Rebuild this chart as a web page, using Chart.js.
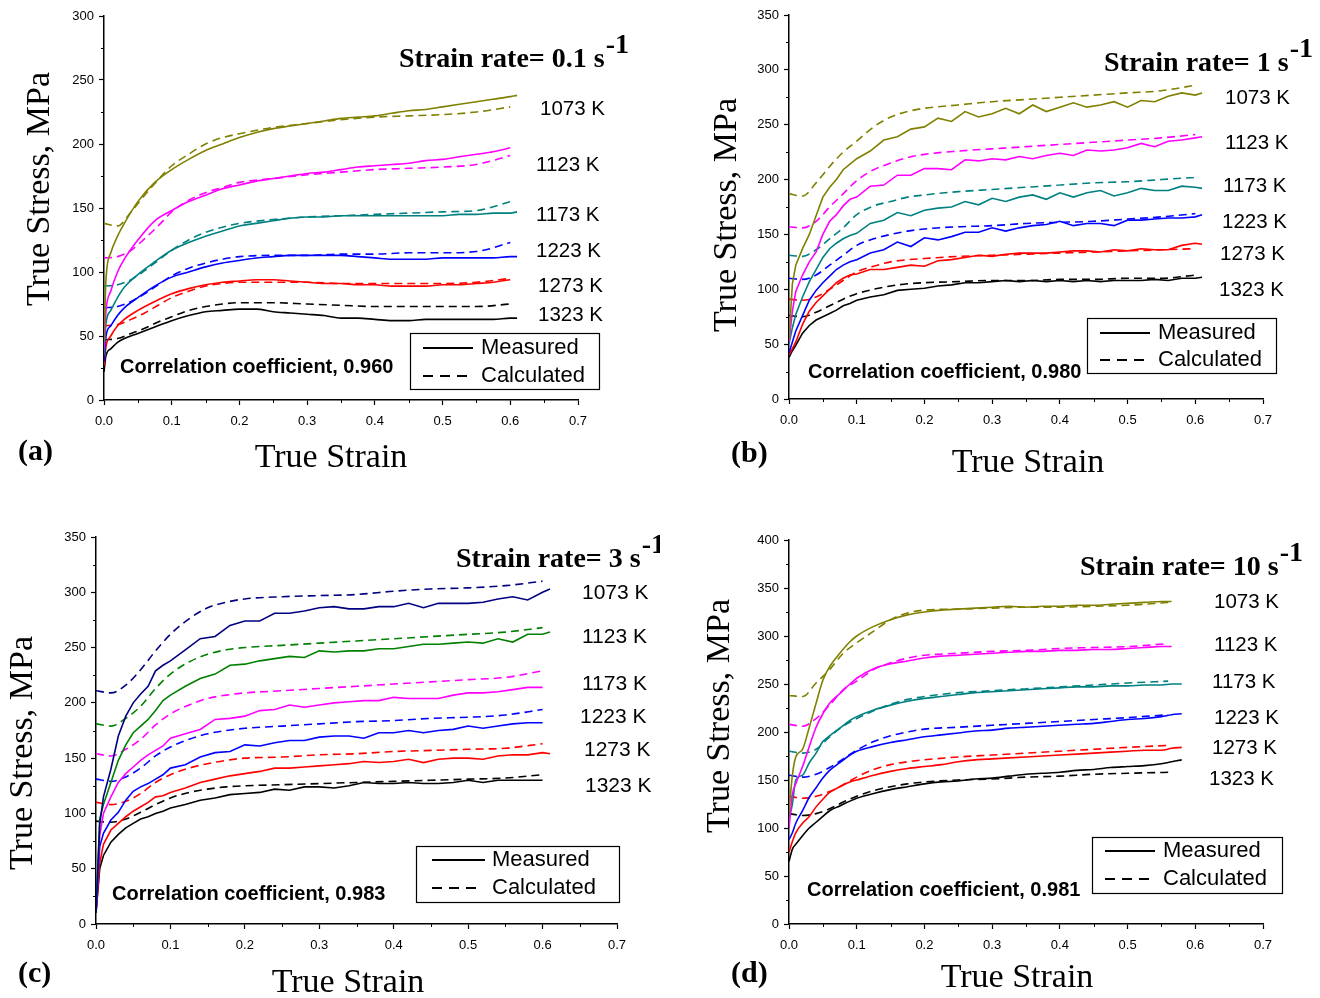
<!DOCTYPE html>
<html><head><meta charset="utf-8">
<script src="https://cdn.jsdelivr.net/npm/chart.js@4.4.1/dist/chart.umd.min.js"></script>
<style>
html,body{margin:0;padding:0;background:#fff;}
#wrap{position:relative;width:1320px;height:998px;background:#fff;overflow:hidden;}
.pane{position:absolute;}
</style></head>
<body>
<div id="wrap">
  <div class="pane" style="left:0;top:0;width:660px;height:490px"><canvas id="pa"></canvas></div>
  <div class="pane" style="left:660px;top:0;width:660px;height:490px"><canvas id="pb"></canvas></div>
  <div class="pane" style="left:0;top:490px;width:660px;height:508px"><canvas id="pc"></canvas></div>
  <div class="pane" style="left:660px;top:490px;width:660px;height:508px"><canvas id="pd"></canvas></div>
</div>
<script>
// ---------- DATA ----------
const TEMPS = ['1073 K','1123 K','1173 K','1223 K','1273 K','1323 K'];
const X_TICKS_MAX = 0.7;

// Panel (a) strain rate 0.1 s-1
const A_MEAS_STRAIN = [0,0.003,0.01,0.02,0.03,0.05,0.075,0.1,0.125,0.15,0.175,0.2,0.225,0.25,0.275,0.3,0.325,0.35,0.375,0.4,0.425,0.45,0.475,0.5,0.525,0.55,0.575,0.6,0.61];
const A_MEAS_1073 = [45,95,115,128,138,155,170,180,188,195,200,205,209,212,214,216,218,220,221,222,224,226,227,229,231,233,235,237,238];
const A_MEAS_1123 = [40,70,85,100,110,125,140,148,155,160,165,168,171,173,175,177,178,180,182,183,184,185,187,188,190,192,194,197,null];
const A_MEAS_1173 = [35,60,70,80,88,98,108,117,123,128,132,136,138,140,142,143,143,144,144,144,144,144,144,144,145,145,146,146,147];
const A_MEAS_1223 = [30,50,58,66,72,80,89,96,100,104,107,109,111,112,113,113,113,113,112,111,110,110,110,111,111,111,111,112,112];
const A_MEAS_1273 = [27,42,50,58,63,70,77,83,87,90,92,93,94,94,93,92,91,91,90,90,89,89,89,90,90,91,92,94,null];
const A_MEAS_1323 = [22,35,40,45,48,52,57,62,66,69,70,71,71,69,68,67,66,64,64,63,62,62,63,63,63,63,63,64,64];
const A_CALC_STRAIN = [0,0.02,0.04,0.06,0.08,0.1,0.125,0.15,0.175,0.2,0.25,0.3,0.35,0.4,0.45,0.5,0.55,0.6];
const A_CALC_1073 = [138,136,147,160,172,183,192,200,205,208,213,216,219,221,222,223,225,229];
const A_CALC_1123 = [111,112,117,126,136,147,156,162,166,170,173,176,178,180,181,182,184,191];
const A_CALC_1173 = [89,90,94,101,109,117,125,131,135,138,141,143,144,145,146,147,148,155];
const A_CALC_1223 = [72,73,77,83,90,97,103,107,110,112,113,113,114,114,115,115,116,123];
const A_CALC_1273 = [58,59,63,68,74,80,85,89,91,92,92,92,91,91,91,91,92,95];
const A_CALC_1323 = [47,48,52,56,61,65,70,73,75,76,76,75,74,73,73,73,73,75];

// Panel (b) strain rate 1 s-1
const B_MEAS_STRAIN = [0,0.005,0.01,0.02,0.03,0.04,0.05,0.06,0.07,0.08,0.09,0.1,0.12,0.14,0.16,0.18,0.2,0.22,0.24,0.26,0.28,0.3,0.32,0.34,0.36,0.38,0.4,0.42,0.44,0.46,0.48,0.5,0.52,0.54,0.56,0.58,0.6,0.61];
const B_MEAS_1073 = [55,105,122,137,150,167,184,193,200,209,214,219,226,236,239,246,248,256,253,262,257,260,265,260,268,262,266,270,266,268,271,266,272,271,276,279,277,279];
const B_MEAS_1123 = [52,80,98,113,125,134,150,162,168,176,182,184,194,195,204,204,210,210,209,218,217,219,218,221,219,222,224,222,227,226,227,229,233,230,235,236,238,239];
const B_MEAS_1173 = [50,65,77,93,107,118,129,137,142,146,149,151,160,163,170,167,172,174,175,180,177,183,180,184,186,182,188,184,188,190,185,188,192,190,190,194,193,192];
const B_MEAS_1223 = [42,52,62,76,90,99,106,112,118,122,125,127,133,136,143,139,147,145,148,152,152,156,153,156,158,159,162,158,160,160,158,163,163,164,165,165,166,168];
const B_MEAS_1273 = [40,46,52,68,80,88,94,100,106,110,113,114,118,118,120,122,121,126,127,129,131,130,132,133,133,133,134,135,135,134,136,135,137,136,136,140,142,141];
const B_MEAS_1323 = [38,44,49,60,67,72,75,78,81,85,87,90,93,95,99,100,101,103,104,106,106,107,108,107,108,107,108,107,108,107,108,108,108,109,108,110,110,111];
const B_CALC_STRAIN = [0,0.02,0.04,0.06,0.08,0.1,0.125,0.15,0.175,0.2,0.25,0.3,0.35,0.4,0.45,0.5,0.55,0.6];
const B_CALC_1073 = [187,185,197,212,225,235,248,257,262,265,268,271,273,275,277,279,281,286];
const B_CALC_1123 = [157,156,162,175,187,199,209,215,220,223,226,228,230,232,234,236,238,241];
const B_CALC_1173 = [131,130,136,146,156,168,176,180,184,186,189,191,193,195,197,198,200,202];
const B_CALC_1223 = [110,109,113,122,131,140,146,150,153,155,157,158,160,161,162,164,166,169];
const B_CALC_1273 = [91,90,93,100,108,116,121,125,127,128,130,131,132,133,134,135,136,137];
const B_CALC_1323 = [76,75,79,85,91,96,100,103,105,106,107,108,108,109,109,110,110,113];

// Panel (c) strain rate 3 s-1
const C_MEAS_STRAIN = [0,0.005,0.01,0.02,0.03,0.04,0.05,0.06,0.07,0.08,0.09,0.1,0.12,0.14,0.16,0.18,0.2,0.22,0.24,0.26,0.28,0.3,0.32,0.34,0.36,0.38,0.4,0.42,0.44,0.46,0.48,0.5,0.52,0.54,0.56,0.58,0.6,0.61];
const C_MEAS_1073 = [10,90,115,140,170,188,200,208,215,229,234,238,248,258,260,270,274,274,281,281,283,286,287,285,285,287,287,290,286,290,290,290,291,294,296,293,300,303];
const C_MEAS_1123 = [10,95,108,128,148,162,173,179,185,193,202,207,215,222,226,234,235,238,240,242,241,247,246,247,247,249,249,251,253,253,254,255,254,258,255,262,262,264];
const C_MEAS_1173 = [10,80,100,115,128,136,142,148,153,157,161,168,172,176,185,186,188,193,194,198,196,198,200,201,202,202,205,204,204,204,207,209,209,210,212,214,214,null];
const C_MEAS_1223 = [10,70,82,94,101,112,120,124,127,131,135,141,144,151,155,156,162,161,164,166,166,169,170,170,168,173,173,175,173,175,176,179,177,179,181,182,182,null];
const C_MEAS_1273 = [10,55,72,85,91,97,102,106,110,115,116,119,123,128,131,134,136,138,141,141,142,143,144,145,147,146,147,149,146,149,150,150,149,152,153,153,155,154];
const C_MEAS_1323 = [10,50,62,74,81,87,91,95,97,100,102,105,108,112,114,117,118,119,122,121,124,124,123,125,128,127,127,128,127,127,128,130,128,130,130,130,130,null];
const C_CALC_STRAIN = [0,0.02,0.04,0.06,0.08,0.1,0.125,0.15,0.175,0.2,0.25,0.3,0.35,0.4,0.45,0.5,0.55,0.6];
const C_CALC_1073 = [211,209,216,230,247,262,276,286,291,294,296,297,298,301,303,304,306,310];
const C_CALC_1123 = [181,179,186,197,213,226,237,244,248,250,252,254,256,258,260,262,264,268];
const C_CALC_1173 = [154,152,158,167,180,190,198,204,207,209,211,213,215,217,219,221,223,229];
const C_CALC_1223 = [131,129,133,141,152,160,167,172,175,177,179,181,183,184,186,187,189,194];
const C_CALC_1273 = [110,108,111,118,128,135,141,145,148,150,151,153,154,156,157,158,159,163];
const C_CALC_1323 = [93,92,95,101,108,114,119,122,124,125,126,127,128,129,130,131,132,135];

// Panel (d) strain rate 10 s-1
const D_MEAS_STRAIN = [0,0.005,0.01,0.02,0.03,0.04,0.05,0.06,0.075,0.09,0.1,0.125,0.15,0.175,0.2,0.225,0.25,0.275,0.3,0.325,0.35,0.375,0.4,0.425,0.45,0.475,0.5,0.525,0.55,0.565,0.58];
const D_MEAS_1073 = [115,155,174,182,205,230,254,268,282,294,300,310,317,322,325,327,328,329,330,331,330,331,331,332,332,333,334,335,336,336,null];
const D_MEAS_1123 = [100,135,146,164,185,205,219,230,240,250,256,266,271,274,277,279,280,281,282,283,284,284,285,285,286,286,287,288,289,289,null];
const D_MEAS_1173 = [110,125,150,155,168,178,190,196,204,212,216,223,228,232,235,237,239,241,242,243,244,245,246,247,247,248,248,249,249,250,250];
const D_MEAS_1223 = [88,95,105,118,132,142,152,160,168,176,180,185,189,192,195,197,199,201,202,204,205,206,207,208,209,211,213,214,216,218,219];
const D_MEAS_1273 = [75,86,95,105,112,122,130,137,143,148,150,155,159,162,164,166,169,171,172,173,174,175,176,177,178,179,180,181,181,183,184];
const D_MEAS_1323 = [65,78,83,92,100,106,112,118,123,128,131,136,140,143,146,148,149,151,152,154,156,157,158,160,161,163,164,165,167,169,171];
const D_CALC_STRAIN = [0,0.02,0.04,0.06,0.08,0.1,0.125,0.15,0.175,0.2,0.25,0.3,0.35,0.4,0.45,0.5,0.56];
const D_CALC_1073 = [238,237,251,265,282,293,305,317,324,327,328,329,330,330,331,332,335];
const D_CALC_1123 = [208,206,214,228,244,253,265,272,277,280,282,284,285,287,288,289,292];
const D_CALC_1173 = [180,178,182,195,206,214,222,229,234,237,241,243,245,247,249,251,253];
const D_CALC_1223 = [155,153,156,163,172,181,190,196,200,203,205,207,209,211,213,215,218];
const D_CALC_1273 = [133,131,133,138,145,153,161,166,169,171,174,176,178,180,182,184,186];
const D_CALC_1323 = [115,113,115,120,127,133,139,143,146,148,150,151,153,154,156,157,158];

const CORR = {a:'0.960', b:'0.980', c:'0.983', d:'0.981'};
const RATES = {a:'0.1', b:'1', c:'3', d:'10'};
const Y_MAX = {a:300, b:350, c:350, d:400};

// ---------- STYLE ----------
const COLORS_STD = ['#808000','#FF00FF','#008080','#0000FF','#FF0000','#000000'];
const COLORS_C   = ['#000080','#008000','#FF00FF','#0000FF','#FF0000','#000000'];
const SERIF = '"Liberation Serif","Times New Roman",serif';
const SANS = '"Liberation Sans",Arial,sans-serif';

function series(xs, ys, color, dashed, smooth) {
  return {
    data: xs.map((x, i) => ({x: x, y: ys[i]})),
    borderColor: color, backgroundColor: color,
    borderWidth: 1.6, borderDash: dashed ? [8,5] : [],
    pointRadius: 0, fill: false, spanGaps: false,
    tension: 0, cubicInterpolationMode: smooth ? 'monotone' : 'default'
  };
}

const PANELS = {
  pa: {key:'a', ox:0, oy:0, yw:104, xh:90, top:16, right:82, colors:COLORS_STD, smoothMeas:true,
       ms:A_MEAS_STRAIN, meas:[A_MEAS_1073,A_MEAS_1123,A_MEAS_1173,A_MEAS_1223,A_MEAS_1273,A_MEAS_1323],
       cs:A_CALC_STRAIN, calc:[A_CALC_1073,A_CALC_1123,A_CALC_1173,A_CALC_1223,A_CALC_1273,A_CALC_1323],
       yt:[49,189], xt:[331,467], lab:['(a)',18,452], rate:[399,67],
       temps:[[540,109],[536,165],[536,215],[536,251],[538,286],[538,315]], tf:20.5,
       corr:[120,367], leg:{x:410,y:333,w:189,h:56,lx1:423,lx2:473,ly1:348,ly2:376,tx:481}},
  pb: {key:'b', ox:660, oy:0, yw:129, xh:91, top:15, right:57, colors:COLORS_STD, smoothMeas:false,
       ms:B_MEAS_STRAIN, meas:[B_MEAS_1073,B_MEAS_1123,B_MEAS_1173,B_MEAS_1223,B_MEAS_1273,B_MEAS_1323],
       cs:B_CALC_STRAIN, calc:[B_CALC_1073,B_CALC_1123,B_CALC_1173,B_CALC_1223,B_CALC_1273,B_CALC_1323],
       yt:[736,215], xt:[1028,472], lab:['(b)',731,454], rate:[1104,71],
       temps:[[1225,98],[1225,143],[1223,186],[1222,222],[1220,254],[1219,290]], tf:20.5,
       corr:[808,372], leg:{x:1087,y:318,w:189,h:55,lx1:1100,lx2:1150,ly1:333,ly2:360,tx:1158}},
  pc: {key:'c', ox:0, oy:490, yw:96, xh:74, top:47, right:43, colors:COLORS_C, smoothMeas:false,
       ms:C_MEAS_STRAIN, meas:[C_MEAS_1073,C_MEAS_1123,C_MEAS_1173,C_MEAS_1223,C_MEAS_1273,C_MEAS_1323],
       cs:C_CALC_STRAIN, calc:[C_CALC_1073,C_CALC_1123,C_CALC_1173,C_CALC_1223,C_CALC_1273,C_CALC_1323],
       yt:[32,753], xt:[348,992], lab:['(c)',18,974], rate:[456,567],
       temps:[[582,593],[582,637],[582,684],[580,717],[584,750],[585,786]], tf:21,
       corr:[112,894], leg:{x:416,y:846,w:203,h:56,lx1:432,lx2:485,ly1:860,ly2:888,tx:492}},
  pd: {key:'d', ox:660, oy:490, yw:129, xh:74, top:50, right:57, colors:COLORS_STD, smoothMeas:true,
       ms:D_MEAS_STRAIN, meas:[D_MEAS_1073,D_MEAS_1123,D_MEAS_1173,D_MEAS_1223,D_MEAS_1273,D_MEAS_1323],
       cs:D_CALC_STRAIN, calc:[D_CALC_1073,D_CALC_1123,D_CALC_1173,D_CALC_1223,D_CALC_1273,D_CALC_1323],
       yt:[729,716], xt:[1017,987], lab:['(d)',731,974], rate:[1080,575],
       temps:[[1214,602],[1214,645],[1212,682],[1214,718],[1212,748],[1209,779]], tf:20.5,
       corr:[807,890], leg:{x:1092,y:837,w:190,h:56,lx1:1105,lx2:1155,ly1:851,ly2:879,tx:1163}}
};

const annot = {
  id: 'annot',
  afterDraw(chart) {
    const P = PANELS[chart.canvas.id];
    const ctx = chart.ctx, ox = P.ox, oy = P.oy;
    const xs = chart.scales.x, ys = chart.scales.y, ca = chart.chartArea;
    ctx.save();
    // minor ticks
    ctx.strokeStyle = '#000'; ctx.lineWidth = 1;
    for (let v = 25; v < ys.max; v += 50) {
      const py = Math.round(ys.getPixelForValue(v)) + 0.5;
      ctx.beginPath(); ctx.moveTo(ca.left, py); ctx.lineTo(ca.left - 3, py); ctx.stroke();
    }
    for (let k = 0; k < 7; k++) {
      const px = Math.round(xs.getPixelForValue(0.05 + k * 0.1)) + 0.5;
      ctx.beginPath(); ctx.moveTo(px, ca.bottom); ctx.lineTo(px, ca.bottom + 3); ctx.stroke();
    }
    ctx.fillStyle = '#000';
    // y title
    ctx.save();
    ctx.font = '34px ' + SERIF;
    ctx.translate(P.yt[0] - ox, P.yt[1] - oy); ctx.rotate(-Math.PI / 2);
    ctx.textAlign = 'center'; ctx.textBaseline = 'alphabetic';
    ctx.fillText('True Stress, MPa', 0, 0);
    ctx.restore();
    // x title
    ctx.font = '34px ' + SERIF; ctx.textAlign = 'center'; ctx.textBaseline = 'alphabetic';
    ctx.fillText('True Strain', P.xt[0] - ox, P.xt[1] - oy);
    // panel label
    ctx.font = 'bold 30px ' + SERIF; ctx.textAlign = 'left'; ctx.textBaseline = 'middle';
    ctx.fillText(P.lab[0], P.lab[1] - ox, P.lab[2] - oy);
    // strain rate
    ctx.font = 'bold 28px ' + SERIF; ctx.textAlign = 'left'; ctx.textBaseline = 'alphabetic';
    const main = 'Strain rate= ' + RATES[P.key] + ' s';
    ctx.fillText(main, P.rate[0] - ox, P.rate[1] - oy);
    const w = ctx.measureText(main).width;
    ctx.fillText('-1', P.rate[0] - ox + w + 1, P.rate[1] - oy - 14);
    // temperature labels
    ctx.font = P.tf + 'px ' + SANS; ctx.textBaseline = 'middle';
    TEMPS.forEach((t, i) => ctx.fillText(t, P.temps[i][0] - ox, P.temps[i][1] - oy));
    // correlation
    ctx.font = 'bold 20px ' + SANS;
    ctx.fillText('Correlation coefficient, ' + CORR[P.key], P.corr[0] - ox, P.corr[1] - oy);
    // legend
    const L = P.leg;
    ctx.lineWidth = 1.2; ctx.strokeStyle = '#000';
    ctx.strokeRect(L.x - ox + 0.5, L.y - oy + 0.5, L.w, L.h);
    ctx.lineWidth = 1.8;
    ctx.beginPath(); ctx.moveTo(L.lx1 - ox, L.ly1 - oy); ctx.lineTo(L.lx2 - ox, L.ly1 - oy); ctx.stroke();
    ctx.setLineDash([10, 7]);
    ctx.beginPath(); ctx.moveTo(L.lx1 - ox, L.ly2 - oy); ctx.lineTo(L.lx2 - ox - 4, L.ly2 - oy); ctx.stroke();
    ctx.setLineDash([]);
    ctx.font = '22px ' + SANS; ctx.textBaseline = 'middle';
    ctx.fillText('Measured', L.tx - ox, L.ly1 - oy);
    ctx.fillText('Calculated', L.tx - ox, L.ly2 - oy);
    ctx.restore();
  }
};

function build(id) {
  const P = PANELS[id];
  const datasets = [];
  for (let i = 0; i < 6; i++) {
    datasets.push(series(P.ms, P.meas[i], P.colors[i], false, P.smoothMeas));
    datasets.push(series(P.cs, P.calc[i], P.colors[i], true, true));
  }
  const tickFont = {family: SANS, size: 13};
  new Chart(document.getElementById(id), {
    type: 'line',
    data: {datasets},
    options: {
      responsive: true, maintainAspectRatio: false, animation: false,
      devicePixelRatio: 1,
      layout: {padding: {left: 0, top: P.top, right: P.right, bottom: 0}},
      plugins: {legend: {display: false}, tooltip: {enabled: false}},
      scales: {
        x: {
          type: 'linear', min: 0, max: X_TICKS_MAX,
          afterFit: s => { s.height = P.xh; },
          ticks: {stepSize: 0.1, callback: v => Number(v).toFixed(1), font: tickFont, color: '#000', padding: 9, maxRotation: 0, autoSkip: false},
          grid: {drawOnChartArea: false, drawTicks: true, tickLength: 5, tickColor: '#000', tickWidth: 1.2},
          border: {display: true, color: '#000', width: 1.5}
        },
        y: {
          type: 'linear', min: 0, max: Y_MAX[P.key],
          afterFit: s => { s.width = P.yw; },
          ticks: {stepSize: 50, font: tickFont, color: '#000', padding: 5},
          grid: {drawOnChartArea: false, drawTicks: true, tickLength: 5, tickColor: '#000', tickWidth: 1.2},
          border: {display: true, color: '#000', width: 1.5}
        }
      }
    },
    plugins: [annot]
  });
}
['pa','pb','pc','pd'].forEach(build);
</script>
</body></html>
